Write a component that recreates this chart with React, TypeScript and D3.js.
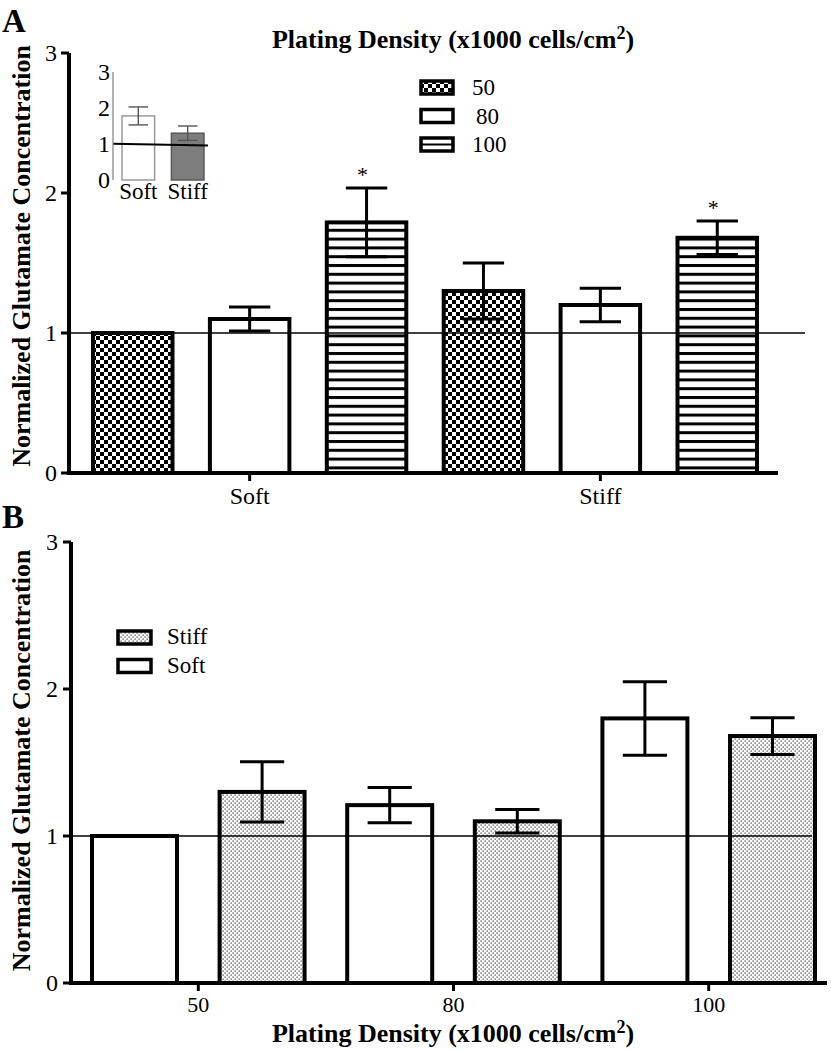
import React from "react";
import * as d3 from "d3";

// ---------- Data ----------
const densities = ["50", "80", "100"];
const substratesA = ["Soft", "Stiff"];
// Panel A: order Soft(50,80,100), Stiff(50,80,100)
const barKeysA = ["Soft-50", "Soft-80", "Soft-100", "Stiff-50", "Stiff-80", "Stiff-100"];
const barPatternA = ["checker", "white", "stripes", "checker", "white", "stripes"];
const valuesA = [1.0, 1.1, 1.79, 1.3, 1.2, 1.68];
const errorsA = [0, 0.086, 0.245, 0.2, 0.12, 0.12];
const significantA = [false, false, true, false, false, true];

// Inset
const insetCats = ["Soft", "Stiff"];
const insetValues = [1.78, 1.3];
const insetErrors = [0.25, 0.2];
const insetTicks = [0, 1, 2, 3];

// Panel B: order 50(Soft,Stiff), 80(Soft,Stiff), 100(Soft,Stiff)
const barKeysB = ["50-Soft", "50-Stiff", "80-Soft", "80-Stiff", "100-Soft", "100-Stiff"];
const barPatternB = ["white", "stipple", "white", "stipple", "white", "stipple"];
const valuesB = [1.0, 1.3, 1.21, 1.1, 1.8, 1.68];
const errorsB = [0, 0.205, 0.12, 0.08, 0.25, 0.125];

const yTicks = [0, 1, 2, 3];
const legendA = [
  { label: "50", pattern: "checker" },
  { label: "80", pattern: "white" },
  { label: "100", pattern: "stripes" },
];
const legendB = [
  { label: "Stiff", pattern: "stipple" },
  { label: "Soft", pattern: "white" },
];

const FONT = "'Liberation Serif', 'Times New Roman', Times, serif";

function fillFor(p: string) {
  if (p === "white") return "#ffffff";
  return `url(#${p})`;
}

export default function App() {
  // Panel A scales
  const yA = d3.scaleLinear().domain([0, 3]).range([473, 53]);
  const xA = d3.scaleBand<string>().domain(barKeysA).range([93, 757]).paddingInner(0.32).paddingOuter(0);
  const groupCenterA = (g: string) => {
    const k = `${g}-80`;
    return (xA(k) as number) + xA.bandwidth() / 2;
  };
  // Inset scales
  const yI = d3.scaleLinear().domain([0, 3]).range([180, 72]);
  const xI = d3.scaleBand<string>().domain(insetCats).range([122, 204]).paddingInner(0.34).paddingOuter(0);
  // Panel B scales
  const yB = d3.scaleLinear().domain([0, 3]).range([983, 542]);
  const xB = d3.scaleBand<string>().domain(barKeysB).range([92, 815]).paddingInner(0.334).paddingOuter(0);
  const groupCenterB = (d: string) => {
    const a = (xB(`${d}-Soft`) as number) + xB.bandwidth() / 2;
    const b = (xB(`${d}-Stiff`) as number) + xB.bandwidth() / 2;
    return (a + b) / 2;
  };

  const axisA = { x: 69, y0: yA(0), xEnd: 778 };
  const axisB = { x: 71, y0: yB(0), xEnd: 827 };

  const title = (x: number, y: number) => (
    <text x={x} y={y} textAnchor="middle" fontFamily={FONT} fontWeight="bold" fontSize={26}>
      Plating Density (x1000 cells/cm<tspan dy={-9} fontSize={18}>2</tspan><tspan dy={9}>)</tspan>
    </text>
  );

  const errBar = (cx: number, yTop: number, yBot: number, cap: number, key: string, color = "#000", sw = 3) => (
    <g key={key} stroke={color} strokeWidth={sw}>
      <line x1={cx} x2={cx} y1={yTop} y2={yBot} />
      <line x1={cx - cap / 2} x2={cx + cap / 2} y1={yTop} y2={yTop} />
      <line x1={cx - cap / 2} x2={cx + cap / 2} y1={yBot} y2={yBot} />
    </g>
  );

  return (
    <svg width={831} height={1050} style={{ position: "absolute", left: 0, top: 0, background: "#fff" }}>
      <defs>
        <pattern id="checker" width={8} height={8} patternUnits="userSpaceOnUse">
          <rect width={8} height={8} fill="#fff" />
          <rect x={0} y={0} width={4} height={4} fill="#000" />
          <rect x={4} y={4} width={4} height={4} fill="#000" />
        </pattern>
        <pattern id="stripes" width={10} height={8.8} patternUnits="userSpaceOnUse">
          <rect width={10} height={8.8} fill="#fff" />
          <rect x={0} y={0} width={10} height={3} fill="#000" />
        </pattern>
        <pattern id="stipple" width={4} height={4} patternUnits="userSpaceOnUse">
          <rect width={4} height={4} fill="#fff" />
          <rect x={0.5} y={0.5} width={1.2} height={1.2} fill="#2a2a2a" />
          <rect x={2.5} y={2.5} width={1.2} height={1.2} fill="#2a2a2a" />
        </pattern>
      </defs>

      {/* ================= Panel A ================= */}
      <text x={2} y={32} fontFamily={FONT} fontWeight="bold" fontSize={33}>A</text>
      {title(453, 48)}
      <text
        transform={`translate(30,${(yA(0) + yA(3)) / 2 - 7}) rotate(-90)`}
        textAnchor="middle"
        fontFamily={FONT}
        fontWeight="bold"
        fontSize={26}
      >
        Normalized Glutamate Concentration
      </text>

      {/* bars A */}
      {barKeysA.map((k, i) => (
        <rect
          key={k}
          x={xA(k)}
          y={yA(valuesA[i])}
          width={xA.bandwidth()}
          height={yA(0) - yA(valuesA[i])}
          fill={fillFor(barPatternA[i])}
          stroke="#000"
          strokeWidth={4}
        />
      ))}
      {barKeysA.map((k, i) =>
        errorsA[i] > 0
          ? errBar(
              (xA(k) as number) + xA.bandwidth() / 2,
              yA(valuesA[i] + errorsA[i]),
              yA(valuesA[i] - errorsA[i]),
              xA.bandwidth() * 0.52,
              `ea${i}`
            )
          : null
      )}
      {barKeysA.map((k, i) =>
        significantA[i] ? (
          <text
            key={`s${i}`}
            x={(xA(k) as number) + xA.bandwidth() / 2 - 4}
            y={yA(valuesA[i] + errorsA[i]) - 6}
            textAnchor="middle"
            fontFamily={FONT}
            fontSize={22}
          >
            *
          </text>
        ) : null
      )}
      {/* reference line A */}
      <line x1={axisA.x} x2={805} y1={yA(1)} y2={yA(1)} stroke="#000" strokeWidth={1.6} />

      {/* axes A */}
      <line x1={axisA.x} x2={axisA.x} y1={yA(3)} y2={yA(0) + 2} stroke="#000" strokeWidth={4} />
      <line x1={axisA.x - 2} x2={axisA.xEnd} y1={yA(0)} y2={yA(0)} stroke="#000" strokeWidth={4} />
      {yTicks.map((t) => (
        <g key={`yta${t}`}>
          <line x1={axisA.x - 8} x2={axisA.x} y1={yA(t)} y2={yA(t)} stroke="#000" strokeWidth={3} />
          <text x={axisA.x - 12} y={yA(t) + 8} textAnchor="end" fontFamily={FONT} fontSize={24}>
            {t}
          </text>
        </g>
      ))}
      {substratesA.map((g) => (
        <g key={`xta${g}`}>
          <line x1={groupCenterA(g)} x2={groupCenterA(g)} y1={yA(0)} y2={yA(0) + 8} stroke="#000" strokeWidth={3} />
          <text x={groupCenterA(g)} y={yA(0) + 31} textAnchor="middle" fontFamily={FONT} fontSize={24}>
            {g}
          </text>
        </g>
      ))}

      {/* legend A */}
      {legendA.map((l, i) => (
        <g key={`la${i}`}>
          <rect x={421} y={81 + i * 28.5} width={32} height={13} fill={l.pattern === "stripes" ? "#fff" : fillFor(l.pattern)} stroke="#000" strokeWidth={3.5} />
          {l.pattern === "stripes" ? (
            <line x1={421} x2={453} y1={87.5 + i * 28.5} y2={87.5 + i * 28.5} stroke="#000" strokeWidth={2} />
          ) : null}
          <text x={l.label === "80" ? 476 : 472} y={95 + i * 28.5} fontFamily={FONT} fontSize={23}>
            {l.label}
          </text>
        </g>
      ))}

      {/* inset */}
      <g>
        {insetCats.map((c, i) => (
          <rect
            key={`ib${c}`}
            x={xI(c)}
            y={yI(insetValues[i])}
            width={xI.bandwidth()}
            height={yI(0) - yI(insetValues[i])}
            fill={i === 0 ? "#fff" : "#7d7d7d"}
            stroke={i === 0 ? "#9a9a9a" : "#5a5a5a"}
            strokeWidth={1.5}
          />
        ))}
        {insetCats.map((c, i) =>
          errBar(
            (xI(c) as number) + xI.bandwidth() / 2,
            yI(insetValues[i] + insetErrors[i]),
            yI(insetValues[i] - insetErrors[i]),
            xI.bandwidth() * 0.6,
            `ie${i}`,
            "#555",
            1.4
          )
        )}
        <line x1={113} x2={208} y1={yI(1.01)} y2={yI(0.96)} stroke="#000" strokeWidth={2} />
        <line x1={113} x2={113} y1={yI(3)} y2={yI(0)} stroke="#888" strokeWidth={1.3} />
        {insetTicks.map((t) => (
          <text key={`it${t}`} x={110} y={yI(t) + 8} textAnchor="end" fontFamily={FONT} fontSize={24}>
            {t}
          </text>
        ))}
        {insetCats.map((c) => (
          <text key={`il${c}`} x={(xI(c) as number) + xI.bandwidth() / 2} y={199} textAnchor="middle" fontFamily={FONT} fontSize={23}>
            {c}
          </text>
        ))}
      </g>

      {/* ================= Panel B ================= */}
      <text x={2} y={528} fontFamily={FONT} fontWeight="bold" fontSize={33}>B</text>
      <text
        transform={`translate(30,${(yB(0) + yB(3)) / 2 - 2}) rotate(-90)`}
        textAnchor="middle"
        fontFamily={FONT}
        fontWeight="bold"
        fontSize={26}
      >
        Normalized Glutamate Concentration
      </text>

      {barKeysB.map((k, i) => (
        <rect
          key={k}
          x={xB(k)}
          y={yB(valuesB[i])}
          width={xB.bandwidth()}
          height={yB(0) - yB(valuesB[i])}
          fill={fillFor(barPatternB[i])}
          stroke="#000"
          strokeWidth={4}
        />
      ))}
      {barKeysB.map((k, i) =>
        errorsB[i] > 0
          ? errBar(
              (xB(k) as number) + xB.bandwidth() / 2,
              yB(valuesB[i] + errorsB[i]),
              yB(valuesB[i] - errorsB[i]),
              xB.bandwidth() * 0.52,
              `eb${i}`
            )
          : null
      )}
      <line x1={axisB.x} x2={812} y1={yB(1)} y2={yB(1)} stroke="#000" strokeWidth={1.6} />

      <line x1={axisB.x} x2={axisB.x} y1={yB(3)} y2={yB(0) + 2} stroke="#000" strokeWidth={4} />
      <line x1={axisB.x - 2} x2={axisB.xEnd} y1={yB(0)} y2={yB(0)} stroke="#000" strokeWidth={4} />
      {yTicks.map((t) => (
        <g key={`ytb${t}`}>
          <line x1={axisB.x - 8} x2={axisB.x} y1={yB(t)} y2={yB(t)} stroke="#000" strokeWidth={3} />
          <text x={axisB.x - 13} y={yB(t) + 8} textAnchor="end" fontFamily={FONT} fontSize={24}>
            {t}
          </text>
        </g>
      ))}
      {densities.map((d) => (
        <g key={`xtb${d}`}>
          <line x1={groupCenterB(d)} x2={groupCenterB(d)} y1={yB(0)} y2={yB(0) + 8} stroke="#000" strokeWidth={3} />
          <text x={groupCenterB(d)} y={yB(0) + 29} textAnchor="middle" fontFamily={FONT} fontSize={22}>
            {d}
          </text>
        </g>
      ))}
      {title(453, 1042)}

      {/* legend B */}
      {legendB.map((l, i) => (
        <g key={`lb${i}`}>
          <rect x={118} y={631 + i * 28.5} width={33} height={13} fill={fillFor(l.pattern)} stroke="#000" strokeWidth={3.5} />
          <text x={167} y={644 + i * 28.5} fontFamily={FONT} fontSize={23}>
            {l.label}
          </text>
        </g>
      ))}
    </svg>
  );
}
